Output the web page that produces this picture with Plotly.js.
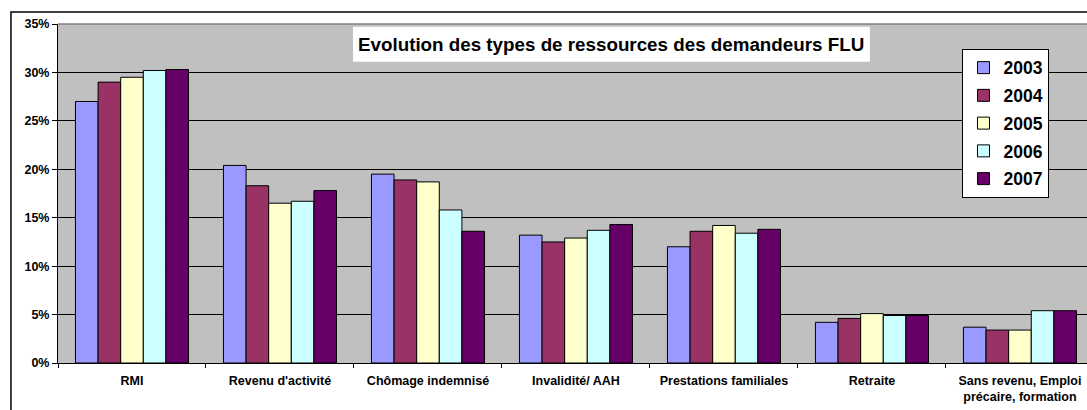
<!DOCTYPE html>
<html><head><meta charset="utf-8">
<script src="https://cdn.plot.ly/plotly-3.0.1.min.js"></script>
<style>html,body{margin:0;padding:0;background:#fff;overflow:hidden}#chart{width:1087px;height:410px}</style>
</head><body><div id="chart"></div>
<script>
const categories = ["RMI", "Revenu d'activité", "Chômage indemnisé", "Invalidité/ AAH", "Prestations familiales", "Retraite", "Sans revenu, Emploi<br>précaire, formation"];
const years = ["2003", "2004", "2005", "2006", "2007"];
const v2003 = [27.0, 20.4, 19.5, 13.2, 12.0, 4.2, 3.7];
const v2004 = [29.0, 18.3, 18.9, 12.5, 13.6, 4.6, 3.4];
const v2005 = [29.5, 16.5, 18.7, 12.9, 14.2, 5.1, 3.4];
const v2006 = [30.2, 16.7, 15.8, 13.7, 13.4, 4.9, 5.4];
const v2007 = [30.3, 17.8, 13.6, 14.3, 13.8, 4.9, 5.4];
const colors = ["#9999FF", "#993366", "#FFFFCC", "#CCFFFF", "#660066"];
const series = [v2003, v2004, v2005, v2006, v2007];

const FONT = "Arial, 'Liberation Sans', sans-serif";
const traces = series.map((vals, i) => ({
  type: "bar", name: years[i], x: categories, y: vals, legendgroup: years[i],
  marker: {color: colors[i], line: {color: "#000", width: 1}},
  hoverinfo: "skip"
}));

const layout = {
  width: 1087, height: 410,
  margin: {l: 58, r: 0, t: 24, b: 47, pad: 0},
  paper_bgcolor: "#fff", plot_bgcolor: "#C0C0C0",
  barmode: "group", bargap: 0.236, bargroupgap: 0,
  font: {family: FONT, color: "#000"},
  xaxis: {
    type: "category", range: [-0.5, 6.453],
    showline: true, linecolor: "#000", linewidth: 1,
    ticks: "outside", ticklen: 4, tickcolor: "#000", tickson: "boundaries",
    ticklabelstandoff: 6,
    showgrid: false, zeroline: false,
    tickfont: {family: FONT, size: 12.5, weight: "bold"}
  },
  yaxis: {
    range: [0, 35], dtick: 5, ticksuffix: "%",
    showline: true, linecolor: "#000", linewidth: 1,
    ticks: "outside", ticklen: 5, tickcolor: "#000",
    showgrid: true, gridcolor: "#000", gridwidth: 1, zeroline: false,
    tickfont: {family: FONT, size: 12.5, weight: "bold"}
  },
  legend: {
    x: 0.879, y: 0.927, xanchor: "left", yanchor: "top",
    bgcolor: "#fff", bordercolor: "#000", borderwidth: 1,
    font: {family: FONT, size: 17.5, weight: "bold"},
    traceorder: "grouped", tracegroupgap: 2
  },
  shapes: [
    {type: "rect", xref: "paper", yref: "paper", x0: -0.0457, x1: 1.02, y0: -0.2, y1: 1.0354,
     line: {color: "#000", width: 1.5}, fillcolor: "rgba(0,0,0,0)", layer: "below"},
    {type: "line", xref: "paper", yref: "paper", x0: 0, x1: 1, y0: 1, y1: 1,
     line: {color: "#808080", width: 1.5}},
    {type: "rect", xref: "paper", yref: "paper", x0: 0.2867, x1: 0.789, y0: 0.8887, y1: 0.992,
     line: {width: 0}, fillcolor: "#fff", layer: "above"}
  ],
  annotations: [
    {text: "Evolution des types de ressources des demandeurs FLU", xref: "paper", yref: "paper",
     x: 0.5378, y: 0.940, xanchor: "center", yanchor: "middle", showarrow: false,
     font: {family: FONT, size: 18.8, weight: "bold", color: "#000"}}
  ]
};

Plotly.newPlot("chart", traces, layout, {staticPlot: true, displayModeBar: false});
</script></body></html>
